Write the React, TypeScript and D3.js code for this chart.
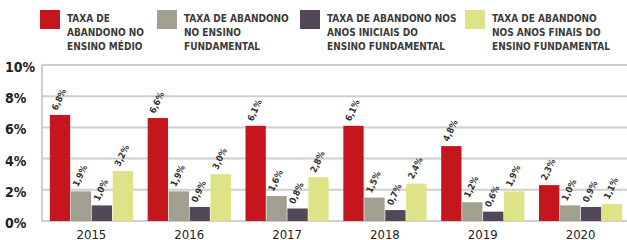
import * as d3 from "d3";

const years = ["2015", "2016", "2017", "2018", "2019", "2020"];
const seriesKeys = ["medio", "fundamental", "iniciais", "finais"];
const seriesLabels = [
  ["TAXA DE", "ABANDONO NO", "ENSINO MÉDIO"],
  ["TAXA DE ABANDONO", "NO ENSINO", "FUNDAMENTAL"],
  ["TAXA DE ABANDONO NOS", "ANOS INICIAIS DO", "ENSINO FUNDAMENTAL"],
  ["TAXA DE ABANDONO", "NOS ANOS FINAIS DO", "ENSINO FUNDAMENTAL"],
];
const seriesColors = ["#c5161d", "#a09f90", "#524859", "#dde386"];

const medio = [6.8, 6.6, 6.1, 6.1, 4.8, 2.3];
const fundamental = [1.9, 1.9, 1.6, 1.5, 1.2, 1.0];
const iniciais = [1.0, 0.9, 0.8, 0.7, 0.6, 0.9];
const finais = [3.2, 3.0, 2.8, 2.4, 1.9, 1.1];

const yTicks = [0, 2, 4, 6, 8, 10];
const legendX = [40, 157, 300, 465];

const FONT = "'DejaVu Sans Condensed', 'Liberation Sans Narrow', sans-serif";

export default function App() {
  const width = 627;
  const height = 240;
  const plotLeft = 42;
  const plotRight = 627;
  const plotTop = 65;
  const plotBottom = 221;

  const allSeries = [medio, fundamental, iniciais, finais];

  const y = d3.scaleLinear().domain([0, 10]).range([plotBottom, plotTop]);

  const x0 = d3
    .scaleBand()
    .domain(years)
    .range([plotLeft, 630])
    .paddingInner(0.15)
    .paddingOuter(0.08);

  const x1 = d3
    .scaleBand()
    .domain(seriesKeys)
    .range([0, x0.bandwidth()])
    .paddingInner(0.03);

  const fmt = (v: number) => v.toFixed(1).replace(".", ",") + "%";

  return (
    <svg
      width={width}
      height={height}
      style={{ position: "absolute", left: 0, top: 0, background: "#fff" }}
      fontFamily={FONT}
    >
      {/* legend */}
      {seriesKeys.map((k, i) => (
        <g key={k} transform={`translate(${legendX[i]},10)`}>
          <rect width={20} height={19} fill={seriesColors[i]} />
          {seriesLabels[i].map((line, j) => (
            <text
              key={j}
              x={27}
              y={9 + j * 14}
              dominantBaseline="middle"
              fontSize={10}
              fontWeight="bold"
              fill="#3a3a3a"
            >
              {line}
            </text>
          ))}
        </g>
      ))}

      {/* gridlines */}
      {yTicks.map((t) => (
        <g key={t}>
          <line
            x1={plotLeft}
            x2={plotRight}
            y1={y(t)}
            y2={y(t)}
            stroke="#cfcfcf"
            strokeWidth={2}
          />
          <text
            x={5}
            y={y(t) + 3}
            dominantBaseline="middle"
            fontSize={14}
            fontWeight="bold"
            fill="#222"
          >
            {t}%
          </text>
        </g>
      ))}
      <line
        x1={plotLeft}
        x2={plotLeft}
        y1={plotTop}
        y2={plotBottom}
        stroke="#cfcfcf"
        strokeWidth={2}
      />

      {/* bars */}
      {years.map((yr, gi) => (
        <g key={yr} transform={`translate(${x0(yr)},0)`}>
          {seriesKeys.map((k, si) => {
            const v = allSeries[si][gi];
            const bx = x1(k) ?? 0;
            const top = y(v);
            const cx = bx + x1.bandwidth() / 2 - 3;
            return (
              <g key={k}>
                <rect
                  x={bx}
                  y={top}
                  width={x1.bandwidth()}
                  height={plotBottom - top}
                  fill={seriesColors[si]}
                />
                <text
                  transform={`translate(${cx},${top - 4}) rotate(-65)`}
                  fontSize={9}
                  fontWeight="bold"
                  fill="#333"
                >
                  {fmt(v)}
                </text>
              </g>
            );
          })}
          <text
            x={x0.bandwidth() / 2}
            y={235}
            textAnchor="middle"
            dominantBaseline="middle"
            fontSize={13}
            fill="#222"
          >
            {yr}
          </text>
        </g>
      ))}
    </svg>
  );
}
